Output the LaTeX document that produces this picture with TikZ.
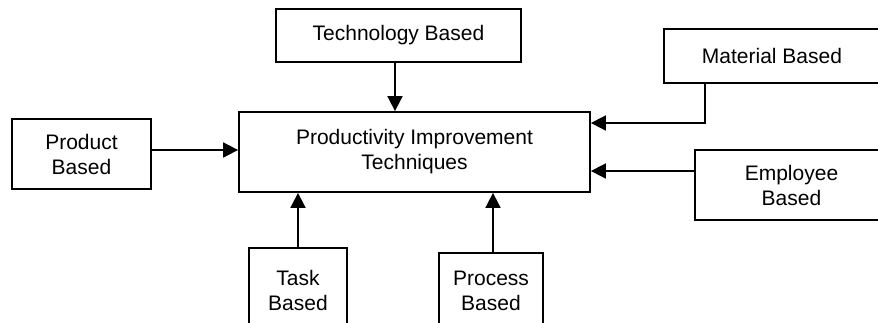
\documentclass[tikz,border=0pt]{standalone}
\usepackage{fontspec}
\setmainfont{Liberation Sans}
\usetikzlibrary{arrows.meta}
\begin{document}
\begin{tikzpicture}[x=1pt,y=-1pt,
  box/.style={draw=black,line width=1.8pt,rectangle,inner sep=0pt,align=center,
    font=\fontsize{21}{25}\selectfont},
  arr/.style={line width=1.8pt,-{Triangle[length=15pt,width=15pt]}}]
\useasboundingbox (0,0) rectangle (878,322);
\begin{scope}
\clip (0,0) rectangle (878,322);
\node[box,minimum width=245pt,minimum height=53pt] (tech) at (398.5,35.5) {Technology Based};
\node[box,minimum width=216pt,minimum height=54pt] (mat) at (772,56) {Material Based};
\node[box,minimum width=139pt,minimum height=70pt] (prod) at (81.5,154) {Product\\Based};
\node[box,minimum width=351pt,minimum height=80pt] (cent) at (414.5,152) {Productivity Improvement\\Techniques};
\node[box,minimum width=193pt,minimum height=70pt] (emp) at (791.5,185) {Employee\\Based};
\node[box,minimum width=98pt,minimum height=84pt] (task) at (298,290) {Task\\Based};
\node[box,minimum width=104pt,minimum height=76pt] (proc) at (491,291) {Process\\Based};
\coordinate (ta) at ([xshift=-3.5pt]tech.south);
\coordinate (ma) at ([yshift=29pt]cent.east);
\coordinate (ea) at ([yshift=-19pt]cent.east);
\coordinate (pa) at ([yshift=2pt]cent.west);
\draw[arr] (ta) -- (ta |- cent.north);
\draw[arr] ([xshift=-67pt]mat.south) |- (ma);
\draw[arr] (ea -| emp.west) -- (ea);
\draw[arr] (pa -| prod.east) -- (pa);
\draw[arr] (task.north) -- (task.north |- cent.south);
\draw[arr] ([xshift=2pt]proc.north) -- ([xshift=2pt]proc.north |- cent.south);
\end{scope}
\end{tikzpicture}
\end{document}
